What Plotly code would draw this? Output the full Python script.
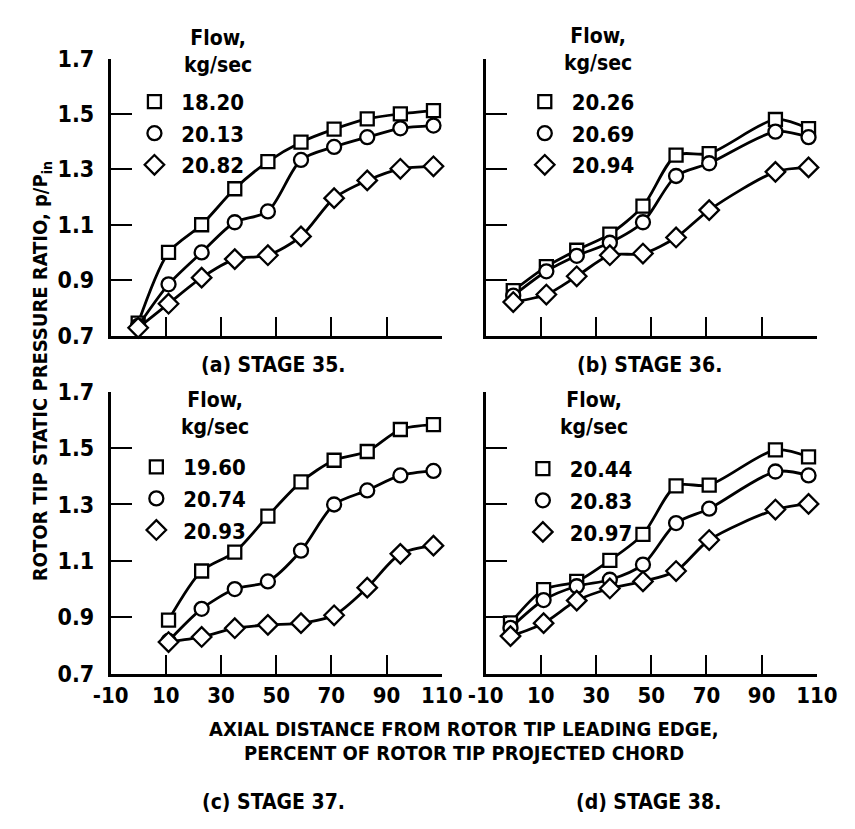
import plotly.graph_objects as go

# ---------------- data ----------------
x_a = [0, 11, 23, 35, 47, 59, 71, 83, 95, 107]
a_sq = [0.745, 1.00, 1.10, 1.23, 1.328, 1.398, 1.445, 1.482, 1.50, 1.512]
a_ci = [0.735, 0.885, 1.00, 1.109, 1.148, 1.334, 1.381, 1.416, 1.448, 1.458]
a_di = [0.728, 0.815, 0.909, 0.976, 0.99, 1.058, 1.196, 1.26, 1.302, 1.311]
a_flow = ["18.20", "20.13", "20.82"]

x_b = [0, 12, 23, 35, 47, 59, 71, 95, 107]
b_sq = [0.862, 0.949, 1.008, 1.066, 1.167, 1.351, 1.357, 1.48, 1.447]
b_ci = [0.844, 0.932, 0.988, 1.035, 1.109, 1.276, 1.322, 1.436, 1.416]
b_di = [0.821, 0.848, 0.914, 0.99, 0.996, 1.054, 1.153, 1.291, 1.307]
b_flow = ["20.26", "20.69", "20.94"]

x_c = [11, 23, 35, 47, 59, 71, 83, 95, 107]
c_sq = [0.890, 1.064, 1.131, 1.259, 1.380, 1.457, 1.488, 1.566, 1.583]
c_ci = [0.816, 0.930, 1.0, 1.027, 1.136, 1.30, 1.35, 1.403, 1.419]
c_di = [0.812, 0.830, 0.861, 0.873, 0.879, 0.907, 1.005, 1.125, 1.154]
c_flow = ["19.60", "20.74", "20.93"]

x_d = [-1, 11, 23, 35, 47, 59, 71, 95, 107]
d_sq = [0.880, 0.998, 1.027, 1.102, 1.194, 1.366, 1.369, 1.494, 1.469]
d_ci = [0.862, 0.961, 1.01, 1.033, 1.087, 1.234, 1.285, 1.417, 1.403]
d_di = [0.833, 0.879, 0.959, 1.002, 1.027, 1.064, 1.174, 1.282, 1.302]
d_flow = ["20.44", "20.83", "20.97"]

captions = ["(a) STAGE 35.", "(b) STAGE 36.", "(c) STAGE 37.", "(d) STAGE 38."]
y_ticks = [0.7, 0.9, 1.1, 1.3, 1.5, 1.7]
x_ticks = [-10, 10, 30, 50, 70, 90, 110]
y_title = "ROTOR TIP STATIC PRESSURE RATIO, p/P<sub>in</sub>"
x_title_1 = "AXIAL DISTANCE FROM ROTOR TIP LEADING EDGE,"
x_title_2 = "PERCENT OF ROTOR TIP PROJECTED CHORD"
legend_head = "Flow,<br>kg/sec"

# ---------------- layout geometry ----------------
W, H = 855, 829
FONT = "Liberation Sans Narrow, DejaVu Sans Condensed, Arial Narrow, sans-serif"

def px(x):
    return x / W

def py(y):
    return 1 - y / H

xdom = {"L": [px(97), px(444)], "R": [px(490), px(837)]}
ydom = {"T": [py(333), py(47)], "B": [py(682), py(391)]}

panels = [
    dict(x=x_a, s=[a_sq, a_ci, a_di], flow=a_flow, xd="L", yd="T", n=""),
    dict(x=x_b, s=[b_sq, b_ci, b_di], flow=b_flow, xd="R", yd="T", n="2"),
    dict(x=x_c, s=[c_sq, c_ci, c_di], flow=c_flow, xd="L", yd="B", n="3"),
    dict(x=x_d, s=[d_sq, d_ci, d_di], flow=d_flow, xd="R", yd="B", n="4"),
]
symbols = ["square", "circle", "diamond"]
msize = [13, 14, 15]

fig = go.Figure()
layout = dict(
    width=W, height=H, margin=dict(l=0, r=0, t=0, b=0),
    paper_bgcolor="white", plot_bgcolor="white", showlegend=True,
    font=dict(family=FONT, color="black"),
)

legend_pos = [(122, 70), (531, 70), (124, 447), (529, 449)]
head_pos = [(210, 40), (608, 38), (206, 413), (604, 413)]
cap_pos = [(268, 363), (662, 363), (268, 815), (661, 815)]

BOLD = "bold"

for i, p in enumerate(panels):
    n = p["n"]
    xa = "x" + n
    ya = "y" + n
    lg = "legend" + n
    for k in range(3):
        fig.add_trace(go.Scatter(
            x=p["x"], y=p["s"][k], xaxis=xa, yaxis=ya,
            mode="lines+markers", line=dict(color="black", width=2.8, shape="spline", smoothing=0.8),
            marker=dict(symbol=symbols[k], size=msize[k], color="white",
                        line=dict(color="black", width=2.3)),
            cliponaxis=False, showlegend=False,
        ))
    for k in range(3):
        fig.add_trace(go.Scatter(
            x=[None], y=[None], xaxis=xa, yaxis=ya, mode="markers",
            marker=dict(symbol=symbols[k], size=msize[k], color="white",
                        line=dict(color="black", width=2.3)),
            name="\u00a0" + p["flow"][k], legend=lg, showlegend=True,
        ))
    lx, ly = legend_pos[i]
    layout[lg] = dict(
        x=px(lx), y=py(ly), xanchor="left", yanchor="top",
        bgcolor="rgba(0,0,0,0)", borderwidth=0, itemsizing="trace",
        font=dict(family=FONT, size=22, color="black", weight=BOLD), tracegroupgap=0,
        itemclick=False, itemdoubleclick=False,
    )
    axx = "xaxis" + n
    axy = "yaxis" + n
    bottom = p["yd"] == "B"
    left = p["xd"] == "L"
    layout[axx] = dict(
        domain=xdom[p["xd"]], anchor=ya, range=[-10, 110],
        tickvals=x_ticks, ticktext=[str(v) for v in x_ticks],
        showticklabels=bottom, ticks="inside", ticklen=19, tickwidth=2.2, tickcolor="black",
        showline=True, linewidth=2.6, linecolor="black", showgrid=False, zeroline=False,
        tickfont=dict(family=FONT, size=22, color="black", weight=BOLD),
    )
    layout[axy] = dict(
        domain=ydom[p["yd"]], anchor=xa, range=[0.7, 1.7],
        tickvals=y_ticks, ticktext=[f"{v:.1f}" for v in y_ticks],
        showticklabels=left, ticks="inside", ticklen=22, tickwidth=2.2, tickcolor="black",
        showline=True, linewidth=2.6, linecolor="black", showgrid=False, zeroline=False,
        tickfont=dict(family=FONT, size=23, color="black", weight=BOLD),
        ticklabelstandoff=9,
    )

annotations = []
for i in range(4):
    hx, hy = head_pos[i]
    annotations.append(dict(
        x=px(hx), y=py(hy), xref="paper", yref="paper", text=legend_head, showarrow=False,
        xanchor="center", yanchor="middle", align="center",
        font=dict(family=FONT, size=21, color="black", weight=BOLD),
    ))
    cx, cy = cap_pos[i]
    annotations.append(dict(
        x=px(cx), y=py(cy), xref="paper", yref="paper", text=captions[i], showarrow=False,
        xanchor="center", yanchor="middle",
        font=dict(family=FONT, size=21, color="black", weight=BOLD),
    ))
annotations.append(dict(
    x=px(25), y=py(370), xref="paper", yref="paper", text=y_title, showarrow=False,
    textangle=-90, xanchor="center", yanchor="middle",
    font=dict(family=FONT, size=20, color="black", weight=BOLD),
))
annotations.append(dict(
    x=px(467), y=py(739), xref="paper", yref="paper", text=x_title_1, showarrow=False,
    xanchor="center", yanchor="middle",
    font=dict(family=FONT, size=20, color="black", weight=BOLD),
))
annotations.append(dict(
    x=px(467), y=py(764), xref="paper", yref="paper", text=x_title_2, showarrow=False,
    xanchor="center", yanchor="middle",
    font=dict(family=FONT, size=20, color="black", weight=BOLD),
))
layout["annotations"] = annotations

fig.update_layout(**layout)
fig.write_html("out.html")
